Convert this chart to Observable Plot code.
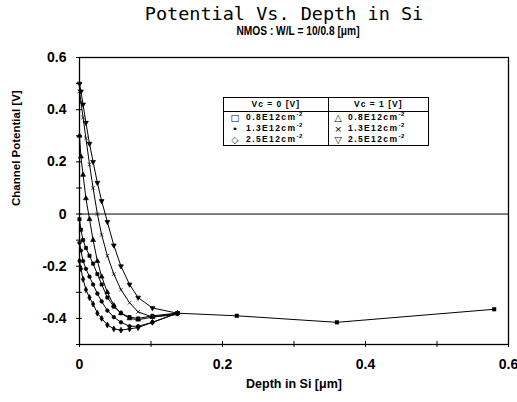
<!DOCTYPE html>
<html><head><meta charset="utf-8">
<script src="https://cdn.jsdelivr.net/npm/d3@7"></script>
<script src="https://cdn.jsdelivr.net/npm/@observablehq/plot@0.6"></script>
<style>
body{margin:0;background:#fff;}
#wrap{position:relative;width:517px;height:402px;overflow:hidden;background:#fff;}
#title{position:absolute;left:0;width:568px;top:3px;text-align:center;font-family:"DejaVu Sans Mono",monospace;font-size:18.5px;color:#000;}
#sub{position:absolute;left:0;width:596px;top:24px;text-align:center;font-family:"Liberation Sans",Arial,sans-serif;font-weight:bold;font-size:12px;color:#000;transform:scaleX(0.85);transform-origin:298px 0;}
#chart{position:absolute;left:0;top:40px;}
#legend{position:absolute;left:223px;top:97px;width:206px;height:49px;border:1.5px solid #000;box-sizing:border-box;background:#fff;font-family:"Liberation Sans",Arial,sans-serif;font-weight:bold;font-size:8.5px;color:#000;}
#legend table{border-collapse:collapse;width:100%;height:100%;table-layout:fixed;}
#legend td{padding:0;line-height:9px;white-space:nowrap;letter-spacing:1.4px;overflow:hidden;}
#legend .hd td{text-align:center;border-bottom:1.5px solid #000;height:13px;letter-spacing:1px;}
#legend .l{border-right:1.5px solid #000;}
#legend td.sym{text-align:center;font-family:"DejaVu Sans",sans-serif;font-weight:normal;font-size:9.5px;letter-spacing:0;}
sup{font-size:6px;line-height:0;letter-spacing:0.5px;}
</style></head>
<body>
<div id="wrap">
<div id="title">Potential Vs. Depth in Si</div>
<div id="sub">NMOS : W/L = 10/0.8 [μm]</div>
<div id="chart"></div>
<div id="legend"></div>
</div>
<script>
// Depth samples (µm) shared by the six curves
const depth = [0, 0.002, 0.005, 0.009, 0.014, 0.019, 0.025, 0.031, 0.039, 0.048, 0.058, 0.07, 0.082, 0.102, 0.137];
// Vc = 0 V
const vc0_08 = [-0.02, -0.06, -0.10, -0.13, -0.16, -0.19, -0.23, -0.27, -0.32, -0.355, -0.38, -0.395, -0.40, -0.39, -0.38];
const vc0_13 = [-0.11, -0.14, -0.18, -0.21, -0.24, -0.27, -0.305, -0.335, -0.37, -0.395, -0.415, -0.43, -0.43, -0.415, -0.38];
const vc0_25 = [-0.18, -0.21, -0.25, -0.29, -0.32, -0.345, -0.38, -0.40, -0.425, -0.44, -0.445, -0.44, -0.435, -0.415, -0.38];
// Vc = 1 V
const vc1_08 = [0.30, 0.22, 0.15, 0.06, -0.02, -0.10, -0.18, -0.24, -0.30, -0.35, -0.38, -0.40, -0.405, -0.395, -0.38];
const vc1_13 = [0.47, 0.43, 0.37, 0.29, 0.19, 0.10, 0.00, -0.08, -0.16, -0.23, -0.29, -0.34, -0.375, -0.395, -0.385];
const vc1_25 = [0.50, 0.47, 0.42, 0.35, 0.27, 0.20, 0.12, 0.05, -0.03, -0.12, -0.20, -0.27, -0.32, -0.36, -0.38];
// Common deep tail
const tailDepth = [0.137, 0.22, 0.36, 0.58];
const tailPot = [-0.38, -0.39, -0.415, -0.365];

const xTicks = [0, 0.2, 0.4, 0.6];
const xMinor = [0, 0.1, 0.2, 0.3, 0.4, 0.5, 0.6];
const yTicks = [-0.4, -0.2, 0, 0.2, 0.4, 0.6];
const yMinor = [-0.5, -0.4, -0.3, -0.2, -0.1, 0, 0.1, 0.2, 0.3, 0.4, 0.5, 0.6];

const invTriangle = {
  draw(ctx, size) {
    const s = Math.sqrt(size / (Math.sqrt(3) / 4));
    const h = s * Math.sqrt(3) / 2;
    ctx.moveTo(0, h * 2 / 3);
    ctx.lineTo(s / 2, -h / 3);
    ctx.lineTo(-s / 2, -h / 3);
    ctx.closePath();
  }
};

const series = [
  {name: "Vc=0 0.8E12", vals: vc0_08, symbol: "square"},
  {name: "Vc=0 1.3E12", vals: vc0_13, symbol: "circle"},
  {name: "Vc=0 2.5E12", vals: vc0_25, symbol: "diamond"},
  {name: "Vc=1 0.8E12", vals: vc1_08, symbol: "triangle"},
  {name: "Vc=1 1.3E12", vals: vc1_13, symbol: "times"},
  {name: "Vc=1 2.5E12", vals: vc1_25, symbol: invTriangle}
];

const fontFam = '"Liberation Sans", Arial, sans-serif';
const marks = [
  Plot.frame({stroke: "#000", strokeWidth: 1.3}),
  Plot.ruleY([0], {stroke: "#000", strokeWidth: 1})
];
for (const s of series) {
  const data = depth.map((d, i) => ({x: d, y: s.vals[i]}));
  marks.push(Plot.line(data, {x: "x", y: "y", stroke: "#000", strokeWidth: 1}));
  marks.push(Plot.dot(data, {x: "x", y: "y", symbol: s.symbol, r: 1.8, fill: "#000", stroke: "#000", strokeWidth: 0.7}));
}
const tail = tailDepth.map((d, i) => ({x: d, y: tailPot[i]}));
marks.push(Plot.line(tail, {x: "x", y: "y", stroke: "#000", strokeWidth: 1}));
marks.push(Plot.dot(tail.slice(1), {x: "x", y: "y", symbol: "square", r: 2.3, fill: "#000"}));

const fmt = d => d === 0 ? "0" : d.toFixed(1);
marks.push(
  Plot.axisX({ticks: xMinor, tickSize: 3, text: null, label: null}),
  Plot.axisX({ticks: xMinor, tickSize: -3, text: null, label: null}),
  Plot.axisX({ticks: xTicks, tickSize: 0, tickPadding: 15, tickFormat: fmt, fontSize: 14, fontWeight: "bold", label: null, textAnchor: "middle"}),
  Plot.axisY({ticks: yMinor, tickSize: 3, text: null, label: null}),
  Plot.axisY({ticks: yMinor, tickSize: -3, text: null, label: null}),
  Plot.axisY({ticks: yTicks, tickSize: 0, tickPadding: 13, tickFormat: fmt, fontSize: 14, fontWeight: "bold", label: null}),
  Plot.text(["Depth in Si [μm]"], {frameAnchor: "bottom", dy: 43, fontSize: 12.5, fontWeight: "bold"}),
  Plot.text(["Channel Potential [V]"], {frameAnchor: "left", dx: -63, dy: 5, rotate: -90, fontSize: 11.5, fontWeight: "bold"})
);

const chart = Plot.plot({
  width: 517,
  height: 362,
  marginTop: 17,
  marginBottom: 58,
  marginLeft: 79,
  marginRight: 9,
  x: {domain: [0, 0.6]},
  y: {domain: [-0.5, 0.6]},
  style: {fontFamily: fontFam, color: "#000", background: "#fff", overflow: "visible"},
  marks
});
document.getElementById("chart").appendChild(chart);

// Legend (HTML table)
const legendRows = [
  ["□", "0.8E12cm", "△", "0.8E12cm"],
  ["•", "1.3E12cm", "×", "1.3E12cm"],
  ["◇", "2.5E12cm", "▽", "2.5E12cm"]
];
let html = '<table><colgroup><col style="width:22px"><col style="width:82px"><col style="width:20px"><col></colgroup>' +
  '<tr class="hd"><td class="l" colspan="2">Vc = 0 [V]</td><td colspan="2">Vc = 1 [V]</td></tr>';
for (const r of legendRows) {
  html += `<tr><td class="sym">${r[0]}</td><td class="l">${r[1]}<sup>-2</sup></td><td class="sym">${r[2]}</td><td>${r[3]}<sup>-2</sup></td></tr>`;
}
html += '</table>';
document.getElementById("legend").innerHTML = html;
</script>
</body></html>
